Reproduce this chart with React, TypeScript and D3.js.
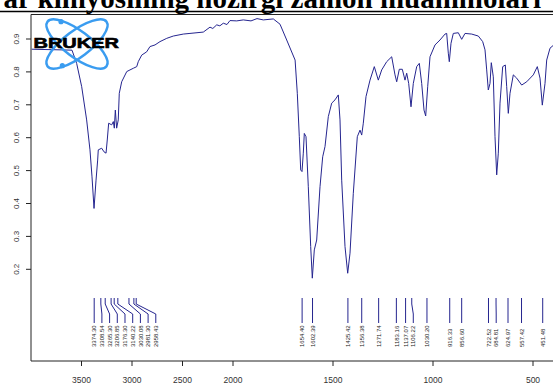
import React from 'react';
import * as d3 from 'd3';

// IR spectrum (cm-1 / transmittance)
const wavenumbers = [
  3993, 3861, 3713, 3594, 3548, 3498, 3449, 3416, 3396, 3376, 3356, 3340, 3334, 3300, 3277, 3257,
  3245, 3231, 3201, 3185, 3175, 3165, 3152, 3136, 3126, 3102, 3052, 3020, 2987, 2953, 2938, 2904,
  2855, 2822, 2772, 2723, 2656, 2591, 2492, 2426, 2294, 2228, 2200, 2161, 2130, 2096, 2060, 2030,
  1981.5, 1948.5, 1910, 1880, 1848.5, 1798.5, 1765, 1731.5, 1689.5, 1678.5, 1668.5, 1661.5, 1655,
  1648.5, 1643.5, 1635, 1623.5, 1611.5, 1603.5, 1593.5, 1581.5, 1565, 1551.5, 1540, 1523.5, 1506.5,
  1490, 1473.5, 1465, 1456.5, 1440, 1426.5, 1415, 1398.5, 1378.5, 1365, 1356.5, 1348.5, 1335, 1315,
  1293.5, 1273.5, 1256.5, 1231.5, 1206.5, 1190, 1181.5, 1168.5, 1153.5, 1140, 1131.5, 1121.5, 1110,
  1098.5, 1081.5, 1068.5, 1056.5, 1045, 1036.5, 1026.5, 1015, 990, 965, 940, 931.5, 923.5, 918.5,
  910, 898.5, 873.5, 856.5, 840, 806.5, 773.5, 751.5, 740, 731.5, 723.5, 715, 708.5, 698.5, 690,
  681.5, 673.5, 665, 651.5, 638.5, 631.5, 623.5, 615, 598.5, 581.5, 556.5, 531.5, 498.5, 478.5, 465,
  453.5, 440, 431.5, 415, 400,
];
const transmittance = [
  0.869, 0.868, 0.867, 0.866, 0.826, 0.755, 0.654, 0.563, 0.481, 0.385, 0.471, 0.532, 0.563, 0.568, 0.557, 0.553,
  0.593, 0.644, 0.639, 0.649, 0.629, 0.684, 0.629, 0.654, 0.735, 0.770, 0.801, 0.806, 0.811, 0.816, 0.831, 0.851,
  0.861, 0.877, 0.882, 0.892, 0.902, 0.909, 0.915, 0.917, 0.921, 0.936, 0.932, 0.943, 0.940, 0.948, 0.944, 0.956,
  0.955, 0.958, 0.955, 0.962, 0.958, 0.961, 0.945, 0.897, 0.836, 0.735, 0.603, 0.502, 0.497,
  0.553, 0.613, 0.603, 0.451, 0.269, 0.173, 0.259, 0.289, 0.451, 0.542, 0.573, 0.664, 0.705,
  0.715, 0.730, 0.654, 0.471, 0.269, 0.188, 0.249, 0.431, 0.603, 0.623, 0.608, 0.644, 0.725, 0.775,
  0.816, 0.775, 0.806, 0.831, 0.846, 0.791, 0.770, 0.808, 0.808, 0.775, 0.796, 0.765, 0.694,
  0.765, 0.816, 0.826, 0.765, 0.684, 0.666, 0.755, 0.846, 0.882, 0.897, 0.915, 0.917, 0.857, 0.831,
  0.887, 0.917, 0.919, 0.899, 0.917, 0.915, 0.909, 0.892, 0.867, 0.806, 0.745, 0.765, 0.828, 0.785, 0.603,
  0.487, 0.553, 0.705, 0.816, 0.821, 0.755, 0.674, 0.735, 0.791, 0.781, 0.760, 0.770, 0.791, 0.816, 0.781,
  0.699, 0.765, 0.836, 0.872, 0.880,
];

const peakLabels = [
  '3374.30', '3308.54', '3265.30', '3206.85', '3176.30', '3140.22', '3030.08', '2981.30', '2958.43',
  '1654.40', '1602.39', '1425.42', '1356.38', '1271.74', '1183.16', '1137.07', '1106.22', '1030.20',
  '916.33', '856.60', '722.52', '684.81', '624.97', '557.42', '451.48',
];

const xTicks = [3500, 3000, 2500, 2000, 1500, 1000, 500];
const yTicks = [0.9, 0.8, 0.7, 0.6, 0.5, 0.4, 0.3, 0.2];

const titleText = 'ar kimyosining hozirgi zamon muammolari';

const W = 553;
const H = 390;
const left = 31;
const top = 14.5;
const bottom = 361;
const lineColor = '#25258f';
const logoBlue = '#3a9cf0';

const App: React.FC = () => {
  // Bruker style axis: 4000-2000 compressed, 2000-400 expanded
  const x = d3.scaleLinear().domain([4000, 2000, 400]).range([left, 233, 553]);
  const y = d3.scaleLinear().domain([0.9, 0.2]).range([39, 269.3]);

  const pts: [number, number][] = wavenumbers.map((w, i) => [w, transmittance[i]]);
  const line = d3
    .line<[number, number]>()
    .x(d => x(d[0]))
    .y(d => y(d[1]));

  // spread peak labels so they don't overlap
  const peaks = peakLabels.map(l => ({ label: l, px: x(parseFloat(l)), lx: 0 }));
  peaks.forEach((p, i) => {
    p.lx = i === 0 ? p.px : Math.max(p.px, peaks[i - 1].lx + 7.7);
  });

  return (
    <div style={{ position: 'absolute', left: 0, top: 0 }}>
      <svg width={W} height={H} style={{ display: 'block', background: '#fff' }}>
        <defs>
          <clipPath id="plot">
            <rect x={left} y={top} width={W - left} height={bottom - top} />
          </clipPath>
        </defs>

        {/* title, cut at the top of the page */}
        <text
          x={541}
          y={7.5}
          textAnchor="end"
          fontFamily="'Liberation Serif', 'Times New Roman', serif"
          fontWeight="bold"
          fontSize={29}
          fill="#000"
        >
          {titleText}
        </text>
        <line x1={0} x2={W} y1={11.5} y2={11.5} stroke="#000" strokeWidth={1.5} />

        {/* frame */}
        <line x1={left} x2={W} y1={top} y2={top} stroke="#222" strokeWidth={1} />
        <line x1={left} x2={left} y1={top} y2={bottom} stroke="#222" strokeWidth={1} />
        <line x1={left} x2={W} y1={bottom} y2={bottom} stroke="#222" strokeWidth={1} />

        {/* y axis */}
        {yTicks.map(t => (
          <g key={t}>
            <line x1={left - 5} x2={left} y1={y(t)} y2={y(t)} stroke="#222" />
            <text
              transform={`translate(18.5,${y(t)}) rotate(-90)`}
              textAnchor="middle"
              fontFamily="'Liberation Sans', Arial, sans-serif"
              fontSize={8}
              fill="#333"
            >
              {d3.format('.1f')(t)}
            </text>
          </g>
        ))}

        {/* x axis */}
        {xTicks.map(t => (
          <g key={t}>
            <line x1={x(t)} x2={x(t)} y1={bottom} y2={bottom + 5} stroke="#222" />
            <text
              x={x(t)}
              y={383}
              textAnchor="middle"
              fontFamily="'Liberation Sans', Arial, sans-serif"
              fontSize={8.5}
              fill="#333"
            >
              {t}
            </text>
          </g>
        ))}

        {/* spectrum */}
        <path d={line(pts) || ''} fill="none" stroke={lineColor} strokeWidth={1} clipPath="url(#plot)" />

        {/* peak markers */}
        {peaks.map(p => (
          <g key={p.label}>
            <path
              d={`M${p.px},298 L${p.px},304 L${p.lx},314 L${p.lx},323`}
              fill="none"
              stroke={lineColor}
              strokeWidth={1}
            />
            <text
              transform={`translate(${p.lx + 2.2},347) rotate(-90)`}
              fontFamily="'Liberation Sans', Arial, sans-serif"
              fontSize={6}
              fill="#222"
            >
              {p.label}
            </text>
          </g>
        ))}

        {/* BRUKER logo */}
        <g>
          <ellipse cx={77} cy={44} rx={37} ry={13} transform="rotate(37,77,44)" fill="none" stroke={logoBlue} strokeWidth={2.5} />
          <ellipse cx={77} cy={44} rx={37} ry={13} transform="rotate(-37,77,44)" fill="none" stroke={logoBlue} strokeWidth={2.5} />
          <circle cx={61} cy={21.7} r={2.6} fill={logoBlue} />
          <circle cx={62.3} cy={65.7} r={2.6} fill={logoBlue} />
          <text
            x={33.5}
            y={48.3}
            textLength={85.5}
            lengthAdjust="spacingAndGlyphs"
            fontFamily="'Liberation Sans', Arial, sans-serif"
            fontWeight="bold"
            fontSize={14}
            fill="#000"
            stroke="#000"
            strokeWidth={0.6}
          >
            BRUKER
          </text>
        </g>
      </svg>
    </div>
  );
};

export default App;
